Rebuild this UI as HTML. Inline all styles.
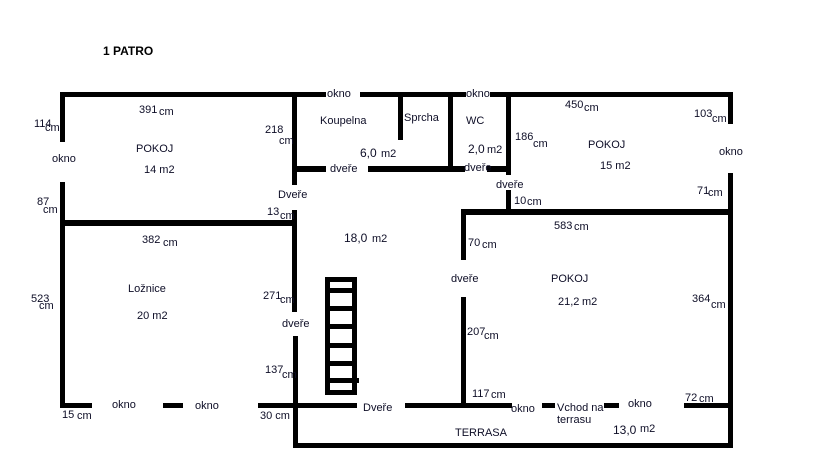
<!DOCTYPE html>
<html><head><meta charset="utf-8"><style>
html,body{margin:0;padding:0;background:#fff;}
svg{display:block}
text{font-family:"Liberation Sans","DejaVu Sans",sans-serif;font-size:11px;fill:#0d0d26;}
</style></head><body>
<svg width="819" height="460" viewBox="0 0 819 460" xmlns="http://www.w3.org/2000/svg">
<g fill="#000">
<!-- top wall -->
<rect x="60" y="92" width="266" height="5"/>
<rect x="360" y="92" width="106" height="5"/>
<rect x="490" y="92" width="243" height="5"/>
<!-- left wall -->
<rect x="60" y="92" width="5" height="50"/>
<rect x="60" y="182" width="5" height="226"/>
<!-- pokoj/loznice -->
<rect x="60" y="220" width="237" height="6"/>
<!-- central left wall -->
<rect x="292" y="92" width="5" height="93"/>
<rect x="292" y="210" width="5" height="102"/>
<rect x="293" y="336" width="5" height="112"/>
<!-- bath door wall -->
<rect x="297" y="166" width="29" height="6"/>
<rect x="368" y="166" width="97" height="6"/>
<rect x="487" y="166" width="22" height="6"/>
<!-- sprcha, wc walls -->
<rect x="398" y="92" width="5" height="48"/>
<rect x="448" y="92" width="5" height="78"/>
<rect x="506" y="92" width="5" height="83"/>
<rect x="506" y="190" width="5" height="22"/>
<!-- horizontal right -->
<rect x="461" y="209" width="272" height="6"/>
<rect x="461" y="209" width="5" height="51"/>
<rect x="461" y="297" width="5" height="110"/>
<!-- right wall -->
<rect x="728" y="92" width="5" height="32"/>
<rect x="728" y="173" width="5" height="275"/>
<!-- bottom wall -->
<rect x="60" y="403" width="32" height="5"/>
<rect x="163" y="403" width="20" height="5"/>
<rect x="258" y="403" width="99" height="5"/>
<rect x="405" y="403" width="107" height="5"/>
<rect x="542" y="403" width="13" height="5"/>
<rect x="604" y="403" width="15" height="5"/>
<rect x="684" y="403" width="49" height="5"/>
<!-- terrace bottom -->
<rect x="293" y="443" width="440" height="5"/>
</g>
<!-- stairs -->
<g fill="none" stroke="#000" stroke-width="5">
<rect x="327.5" y="279.5" width="27" height="113"/>
</g>
<g fill="#000">
<rect x="327" y="288" width="30" height="5"/>
<rect x="327" y="306" width="30" height="5"/>
<rect x="327" y="324" width="30" height="5"/>
<rect x="327" y="343" width="30" height="5"/>
<rect x="327" y="361" width="30" height="5"/>
<rect x="327" y="378" width="32" height="5"/>
</g>
<text x="103" y="55" style="font-weight:bold;font-size:12px;fill:#000">1 PATRO</text>
<text x="327" y="97">okno</text>
<text x="466" y="97">okno</text>
<text x="139" y="113">391</text><text x="159" y="115">cm</text>
<text x="34" y="127">114</text><text x="45" y="131">cm</text>
<text x="52" y="162">okno</text>
<text x="136" y="152">POKOJ</text>
<text x="144" y="173">14 m2</text>
<text x="265" y="133">218</text><text x="279" y="144">cm</text>
<text x="320" y="124">Koupelna</text>
<text x="404" y="121">Sprcha</text>
<text x="466" y="124">WC</text>
<text x="360" y="157" style="font-size:12px">6,0</text><text x="381" y="157">m2</text>
<text x="330" y="172">dveře</text>
<text x="468" y="153" style="font-size:12px">2,0</text><text x="487" y="153">m2</text>
<text x="464" y="171">dveře</text>
<text x="278" y="198">Dveře</text>
<text x="267" y="215">13</text><text x="280" y="219">cm</text>
<text x="37" y="205">87</text><text x="43" y="213">cm</text>
<text x="142" y="243">382</text><text x="163" y="246">cm</text>
<text x="344" y="242" style="font-size:12px">18,0</text><text x="372" y="242">m2</text>
<text x="515" y="140">186</text><text x="533" y="147">cm</text>
<text x="565" y="108">450</text><text x="584" y="111">cm</text>
<text x="588" y="148">POKOJ</text>
<text x="600" y="169">15 m2</text>
<text x="694" y="117">103</text><text x="712" y="122">cm</text>
<text x="719" y="155">okno</text>
<text x="697" y="194">71</text><text x="708" y="196">cm</text>
<text x="496" y="188">dveře</text>
<text x="514" y="204">10</text><text x="527" y="205">cm</text>
<text x="554" y="229">583</text><text x="574" y="230">cm</text>
<text x="468" y="246">70</text><text x="482" y="248">cm</text>
<text x="451" y="282">dveře</text>
<text x="551" y="282">POKOJ</text>
<text x="558" y="305">21,2</text><text x="582" y="305">m2</text>
<text x="692" y="302">364</text><text x="711" y="308">cm</text>
<text x="31" y="302">523</text><text x="39" y="309">cm</text>
<text x="128" y="292">Ložnice</text>
<text x="137" y="319">20 m2</text>
<text x="263" y="299">271</text><text x="280" y="303">cm</text>
<text x="282" y="327">dveře</text>
<text x="467" y="335">207</text><text x="484" y="339">cm</text>
<text x="265" y="373">137</text><text x="282" y="378">cm</text>
<text x="62" y="418">15</text><text x="77" y="419">cm</text>
<text x="112" y="408">okno</text>
<text x="195" y="409">okno</text>
<text x="260" y="419">30 cm</text>
<text x="363" y="411">Dveře</text>
<text x="472" y="397">117</text><text x="491" y="398">cm</text>
<text x="511" y="412">okno</text>
<text x="557" y="411">Vchod na</text>
<text x="557" y="423">terrasu</text>
<text x="628" y="407">okno</text>
<text x="685" y="401">72</text><text x="699" y="402">cm</text>
<text x="455" y="436">TERRASA</text>
<text x="613" y="434" style="font-size:12px">13,0</text><text x="640" y="432">m2</text>
</svg>
</body></html>
